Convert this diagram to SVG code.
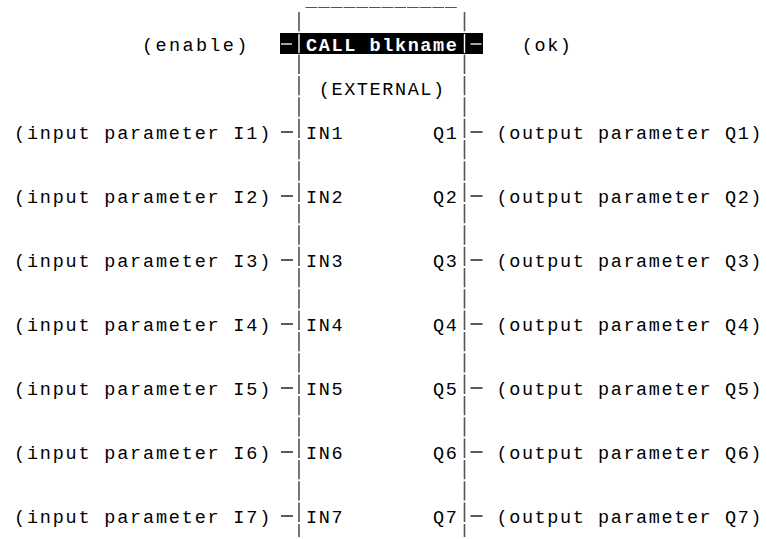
<svg xmlns="http://www.w3.org/2000/svg" width="767" height="539" viewBox="0 0 767 539">
<style>
.t{font-family:"Liberation Mono","Courier New",monospace;font-size:18.5px;letter-spacing:1.59px;fill:#000;white-space:pre}
.i{letter-spacing:1.8px}
.w{fill:#fff;font-weight:bold}
.bar{stroke:#555;stroke-width:1.6;fill:none;stroke-dasharray:19.33 2}
.cn{stroke:#000;stroke-width:1.3;fill:none}
.cw{stroke:#fff;stroke-width:1.3;fill:none}
</style>
<rect width="767" height="539" fill="#fff"/>
<g id="block">
<line x1="305.5" y1="7.5" x2="457.5" y2="7.5" stroke="#555" stroke-width="1.2" stroke-dasharray="11.69 1"/>
<line class="bar" x1="299" y1="12" x2="299" y2="537"/>
<line class="bar" x1="464.5" y1="12" x2="464.5" y2="537"/>
<rect x="280" y="33" width="203" height="21" fill="#000"/>
<line x1="299" y1="34" x2="299" y2="53" stroke="#fff" stroke-width="1.4"/>
<line x1="464.5" y1="34" x2="464.5" y2="53" stroke="#fff" stroke-width="1.4"/>
<text class="t w" x="306.1" y="50.5">CALL blkname</text>
<text class="t" x="318.8" y="95">(EXTERNAL)</text>
<text class="t" x="306.1" y="139">IN1</text><text class="t" x="433" y="139">Q1</text>
<text class="t" x="306.1" y="203">IN2</text><text class="t" x="433" y="203">Q2</text>
<text class="t" x="306.1" y="267">IN3</text><text class="t" x="433" y="267">Q3</text>
<text class="t" x="306.1" y="331">IN4</text><text class="t" x="433" y="331">Q4</text>
<text class="t" x="306.1" y="395">IN5</text><text class="t" x="433" y="395">Q5</text>
<text class="t" x="306.1" y="459">IN6</text><text class="t" x="433" y="459">Q6</text>
<text class="t" x="306.1" y="523">IN7</text><text class="t" x="433" y="523">Q7</text>
</g>
<g id="enable"><text class="t" x="142" y="50.5" textLength="107" lengthAdjust="spacing">(enable)</text></g>
<g id="ok"><text class="t" x="521.8" y="50.5">(ok)</text></g>
<g id="inputs">
<g id="in1"><text class="t i" x="14" y="139">(input parameter I1)</text></g>
<g id="in2"><text class="t i" x="14" y="203">(input parameter I2)</text></g>
<g id="in3"><text class="t i" x="14" y="267">(input parameter I3)</text></g>
<g id="in4"><text class="t i" x="14" y="331">(input parameter I4)</text></g>
<g id="in5"><text class="t i" x="14" y="395">(input parameter I5)</text></g>
<g id="in6"><text class="t i" x="14" y="459">(input parameter I6)</text></g>
<g id="in7"><text class="t i" x="14" y="523">(input parameter I7)</text></g>
</g>
<g id="outputs">
<g id="out1"><text class="t" x="496.5" y="139">(output parameter Q1)</text></g>
<g id="out2"><text class="t" x="496.5" y="203">(output parameter Q2)</text></g>
<g id="out3"><text class="t" x="496.5" y="267">(output parameter Q3)</text></g>
<g id="out4"><text class="t" x="496.5" y="331">(output parameter Q4)</text></g>
<g id="out5"><text class="t" x="496.5" y="395">(output parameter Q5)</text></g>
<g id="out6"><text class="t" x="496.5" y="459">(output parameter Q6)</text></g>
<g id="out7"><text class="t" x="496.5" y="523">(output parameter Q7)</text></g>
</g>
<g id="connectors">
<line class="cw" x1="281" y1="44" x2="292" y2="44"/><line class="cw" x1="470.5" y1="44" x2="481.5" y2="44"/>
<line class="cn" x1="281" y1="132" x2="293" y2="132"/><line class="cn" x1="470.5" y1="132" x2="482.5" y2="132"/>
<line class="cn" x1="281" y1="196" x2="293" y2="196"/><line class="cn" x1="470.5" y1="196" x2="482.5" y2="196"/>
<line class="cn" x1="281" y1="260" x2="293" y2="260"/><line class="cn" x1="470.5" y1="260" x2="482.5" y2="260"/>
<line class="cn" x1="281" y1="324" x2="293" y2="324"/><line class="cn" x1="470.5" y1="324" x2="482.5" y2="324"/>
<line class="cn" x1="281" y1="388" x2="293" y2="388"/><line class="cn" x1="470.5" y1="388" x2="482.5" y2="388"/>
<line class="cn" x1="281" y1="452" x2="293" y2="452"/><line class="cn" x1="470.5" y1="452" x2="482.5" y2="452"/>
<line class="cn" x1="281" y1="516" x2="293" y2="516"/><line class="cn" x1="470.5" y1="516" x2="482.5" y2="516"/>
</g>
</svg>
